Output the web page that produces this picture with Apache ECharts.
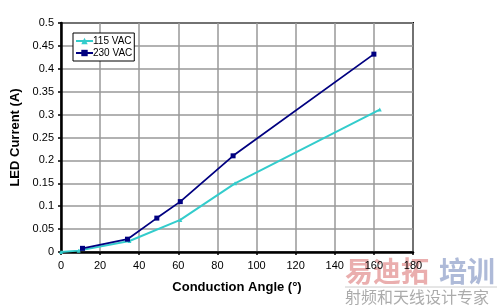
<!DOCTYPE html>
<html><head><meta charset="utf-8">
<script src="https://cdn.jsdelivr.net/npm/echarts@6/dist/echarts.min.js"></script>
<style>html,body{margin:0;padding:0;background:#fff}#c{width:500px;height:307px}</style>
</head><body><div id="c"></div>
<script>
var xTicks = [0,20,40,60,80,100,120,140,160,180];
var yTicks = [0,0.05,0.1,0.15,0.2,0.25,0.3,0.35,0.4,0.45,0.5];
var angle115 = [0, 9, 35, 61, 89, 163];
var current115 = [0, 0.003, 0.024, 0.07, 0.15, 0.311];
var angle230 = [11, 34, 49, 61, 88, 160];
var current230 = [0.008, 0.028, 0.074, 0.11, 0.21, 0.432];

function pairs(a,b){return a.map(function(v,i){return [v,b[i]];});}
var chart = echarts.init(document.getElementById('c'), null, {renderer:'canvas'});
var font = 'Liberation Sans, Arial, sans-serif';
chart.setOption({
  animation:false,
  grid:{left:61,right:87,top:23,bottom:55,show:true,borderColor:'#000',borderWidth:2,backgroundColor:'#fff'},
  legend:{
    left:73, top:33, orient:'vertical', itemGap:2, padding:[3,2,3,2],
    borderColor:'#000', borderWidth:1, backgroundColor:'#fff', borderRadius:0,
    itemWidth:17, itemHeight:8,
    textStyle:{fontFamily:font,fontSize:10,color:'#000',padding:[0,0,0,-5]},
    data:['115 VAC','230 VAC']
  },
  xAxis:{
    type:'value', min:0, max:180, interval:20,
    name:'Conduction Angle (°)', nameLocation:'middle', nameGap:29,
    nameTextStyle:{fontFamily:font,fontSize:13,fontWeight:'bold',color:'#000'},
    axisLine:{show:true,lineStyle:{color:'#000',width:2.5}},
    axisTick:{show:true,length:3,lineStyle:{color:'#000',width:1.5}},
    axisLabel:{fontFamily:font,fontSize:11,color:'#000',margin:8},
    splitLine:{show:true,lineStyle:{color:'#999',width:1.5}}
  },
  yAxis:{
    type:'value', min:0, max:0.5, interval:0.05,
    name:'LED Current (A)', nameLocation:'middle', nameGap:36,
    nameTextStyle:{fontFamily:font,fontSize:13,fontWeight:'bold',color:'#000'},
    axisLine:{show:true,lineStyle:{color:'#000',width:2.5}},
    axisTick:{show:true,length:3,lineStyle:{color:'#000',width:1.5}},
    axisLabel:{fontFamily:font,fontSize:11,color:'#000',margin:7,
      formatter:function(v){return String(Math.round(v*100)/100);}},
    splitLine:{show:true,lineStyle:{color:'#999',width:1.5}}
  },
  series:[
    {name:'115 VAC',type:'line',data:pairs(angle115,current115),
     symbol:'triangle',symbolSize:4,showAllSymbol:true,
     lineStyle:{color:'#33cccc',width:2},itemStyle:{color:'#33cccc'}},
    {name:'230 VAC',type:'line',data:pairs(angle230,current230),
     symbol:'rect',symbolSize:5,showAllSymbol:true,
     lineStyle:{color:'#000080',width:1.8},itemStyle:{color:'#000080'}}
  ],
  graphic:[
    {type:'text',left:345,top:257,style:{text:'易迪拓',font:'bold 28px "Noto Sans CJK SC"',fill:'rgba(220,120,120,0.6)'}},
    {type:'text',left:439,top:257,style:{text:'培训',font:'bold 28px "Noto Sans CJK SC"',fill:'rgba(120,140,190,0.6)'}},
    {type:'line',shape:{x1:345,y1:287,x2:497,y2:287},style:{stroke:'rgba(170,170,170,0.6)',lineWidth:1}},
    {type:'text',left:345,top:289,style:{text:'射频和天线设计专家',font:'16px "Noto Sans CJK SC"',fill:'rgba(150,150,150,0.8)'}}
  ]
});
</script></body></html>
